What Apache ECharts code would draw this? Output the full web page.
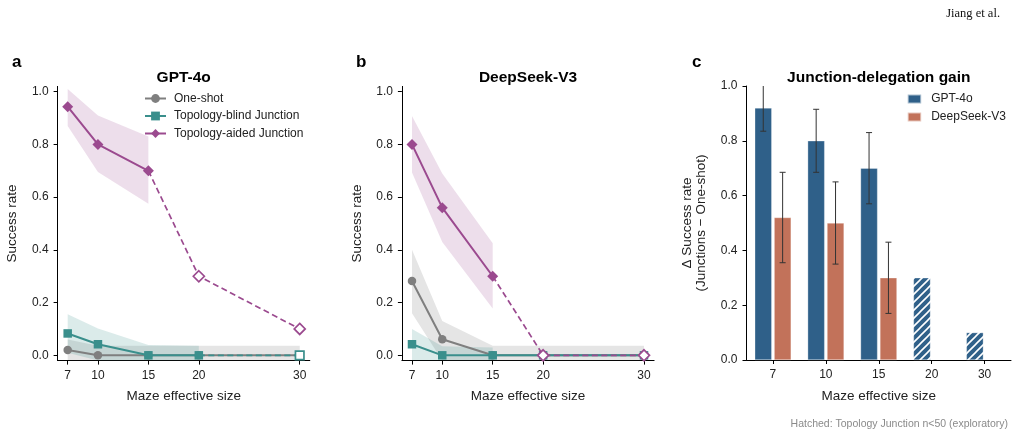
<!DOCTYPE html>
<html>
<head>
<meta charset="utf-8">
<script src="https://cdn.jsdelivr.net/npm/echarts@6/dist/echarts.min.js"></script>
<style>
  html, body { margin: 0; padding: 0; background: #fff; }
  #chart { width: 1019px; height: 437px; }
</style>
</head>
<body>
<div id="chart"></div>
<script>
// ---- data ----
var sizes = [7, 10, 15, 20, 30];
var yTicks = [0, 0.2, 0.4, 0.6, 0.8, 1.0];
var sizeLabels = ['7', '10', '15', '20', '30'];

// a: GPT-4o success rate
var gptOneShot = [0.02, 0, 0, 0, 0];
var gptOneShotLo = [-0.02, -0.02, -0.02, -0.02, -0.02];
var gptOneShotHi = [0.06, 0.036, 0.036, 0.036, 0.036];
var gptBlind = [0.083, 0.042, 0, 0, 0];
var gptBlindLo = [0.01, -0.02, -0.02, -0.02];
var gptBlindHi = [0.156, 0.102, 0.039, 0.036];
var gptAided = [0.943, 0.80, 0.70, 0.30, 0.10];
var gptAidedLo = [0.87, 0.695, 0.575];
var gptAidedHi = [1.01, 0.91, 0.83];
// index of first exploratory point (n<50)
var gptOneShotExpl = 5, gptBlindExpl = 4, gptAidedExpl = 3;

// b: DeepSeek-V3 success rate
var dsOneShot = [0.282, 0.061, 0, 0, 0];
var dsOneShotLo = [0.16, -0.02, -0.02, -0.02, -0.02];
var dsOneShotHi = [0.40, 0.13, 0.036, 0.036, 0.036];
var dsBlind = [0.042, 0, 0, 0, 0];
var dsBlindLo = [-0.02, -0.02, -0.02];
var dsBlindHi = [0.10, 0.034, 0.03];
var dsAided = [0.80, 0.56, 0.30, 0, 0];
var dsAidedLo = [0.693, 0.43, 0.178];
var dsAidedHi = [0.908, 0.69, 0.425];
var dsOneShotExpl = 5, dsBlindExpl = 5, dsAidedExpl = 3;

// c: junction-delegation gain
var gptGain = [0.92, 0.80, 0.70, 0.30, 0.10];
var gptGainErr = [0.085, 0.115, 0.13, null, null];
var gptHatched = [false, false, false, true, true];
var dsGain = [0.52, 0.50, 0.30, null, null];
var dsGainErr = [0.165, 0.15, 0.13, null, null];

// ---- style ----
var FONT = '"Liberation Sans", Arial, sans-serif';
var GRAY = '#7f7f7f', TEAL = '#3a8f8c', PURPLE = '#9b4a8f';
var BLUE = '#2f6089', ORANGE = '#c2725a';
var BAR_W = 17, BAR_GAP = 0.14;
var gridA = {left: 57.6, top: 86.4, width: 252.2, height: 274.2};
var gridB = {left: 401.9, top: 86.4, width: 252.2, height: 274.2};
var gridC = {left: 746.5, top: 86, width: 264.5, height: 274};

function hatch() {
  var s = 8, c = document.createElement('canvas');
  c.width = s; c.height = s;
  var ctx = c.getContext('2d');
  ctx.fillStyle = BLUE; ctx.fillRect(0, 0, s, s);
  ctx.strokeStyle = '#fff'; ctx.lineWidth = 1.6;
  ctx.beginPath();
  ctx.moveTo(-1, 1); ctx.lineTo(1, -1);
  ctx.moveTo(0, s); ctx.lineTo(s, 0);
  ctx.moveTo(s - 1, s + 1); ctx.lineTo(s + 1, s - 1);
  ctx.stroke();
  return c;
}

function xAxisVal(g) {
  return {
    type: 'value', gridIndex: g, min: 6, max: 31,
    axisLine: {show: true, onZero: false, lineStyle: {color: '#000', width: 1}},
    axisTick: {show: true, customValues: sizes, length: 4, lineStyle: {color: '#000'}},
    axisLabel: {customValues: sizes, color: '#222', fontSize: 12, fontFamily: FONT, margin: 9},
    splitLine: {show: false},
    name: 'Maze effective size', nameLocation: 'middle', nameGap: 29,
    nameTextStyle: {color: '#222', fontSize: 13.5, fontFamily: FONT}
  };
}
function yAxisVal(g) {
  return {
    type: 'value', gridIndex: g, min: -0.02, max: 1.02,
    axisLine: {show: true, onZero: false, lineStyle: {color: '#000', width: 1}},
    axisTick: {show: true, customValues: yTicks, length: 4, lineStyle: {color: '#000'}},
    axisLabel: {customValues: yTicks, color: '#222', fontSize: 12, fontFamily: FONT, margin: 9,
      formatter: function (v) { return v.toFixed(1); }},
    splitLine: {show: false},
    name: 'Success rate', nameLocation: 'middle', nameGap: 38,
    nameTextStyle: {color: '#222', fontSize: 13.5, fontFamily: FONT}
  };
}

function band(g, lo, hi, color) {
  return {
    type: 'custom', xAxisIndex: g, yAxisIndex: g, silent: true, z: 1, clip: true,
    data: [[sizes[0], hi[0]]],
    renderItem: function (params, api) {
      var pts = [], i;
      for (i = 0; i < hi.length; i++) pts.push(api.coord([sizes[i], hi[i]]));
      for (i = lo.length - 1; i >= 0; i--) pts.push(api.coord([sizes[i], lo[i]]));
      return {type: 'polygon', shape: {points: pts}, style: {fill: color}};
    }
  };
}

// solid part + dashed exploratory part of one curve
function curve(g, name, ys, expl, color, symbol, size, z) {
  var out = [];
  var solid = [];
  for (var i = 0; i < Math.min(expl, ys.length); i++) solid.push([sizes[i], ys[i]]);
  out.push({
    type: 'line', name: name, xAxisIndex: g, yAxisIndex: g, z: z,
    data: solid, symbol: symbol, symbolSize: size,
    lineStyle: {color: color, width: 2}, itemStyle: {color: color},
    emphasis: {disabled: true}
  });
  if (expl < ys.length) {
    var dash = [];
    for (var j = expl - 1; j < ys.length; j++) {
      if (j === expl - 1) dash.push({value: [sizes[j], ys[j]], symbol: 'none'});
      else dash.push({value: [sizes[j], ys[j]],
        itemStyle: {color: '#fff', borderColor: color, borderWidth: 1.7}});
    }
    out.push({
      type: 'line', name: name + ' (exploratory)', xAxisIndex: g, yAxisIndex: g, z: z,
      data: dash, symbol: symbol, symbolSize: size,
      lineStyle: {color: color, width: 1.7, type: [6, 3.5]}, itemStyle: {color: color},
      emphasis: {disabled: true}
    });
  }
  return out;
}

function errorBars(vals, errs, offset) {
  var data = [];
  vals.forEach(function (v, i) { if (errs[i] != null) data.push([i, v, errs[i]]); });
  return {
    type: 'custom', xAxisIndex: 2, yAxisIndex: 2, z: 5, clip: true, silent: true,
    encode: {x: 0, y: 1}, data: data,
    renderItem: function (params, api) {
      var i = api.value(0), v = api.value(1), e = api.value(2);
      var hi = api.coord([i, v + e]), lo = api.coord([i, v - e]);
      var x = hi[0] + offset, st = {stroke: '#333', lineWidth: 1};
      return {type: 'group', children: [
        {type: 'line', shape: {x1: x, y1: hi[1], x2: x, y2: lo[1]}, style: st},
        {type: 'line', shape: {x1: x - 3, y1: hi[1], x2: x + 3, y2: hi[1]}, style: st},
        {type: 'line', shape: {x1: x - 3, y1: lo[1], x2: x + 3, y2: lo[1]}, style: st}
      ]};
    }
  };
}

var hatchImg = hatch();
var barOffset = (BAR_W * (1 + BAR_GAP)) / 2;

var series = [];
// panel a
series.push(band(0, gptOneShotLo, gptOneShotHi, 'rgba(127,127,127,0.2)'));
series.push(band(0, gptBlindLo, gptBlindHi, 'rgba(58,143,140,0.18)'));
series.push(band(0, gptAidedLo, gptAidedHi, 'rgba(155,74,143,0.18)'));
series = series.concat(curve(0, 'One-shot', gptOneShot, gptOneShotExpl, GRAY, 'circle', 8.5, 2));
series = series.concat(curve(0, 'Topology-blind Junction', gptBlind, gptBlindExpl, TEAL, 'rect', 8.5, 3));
series = series.concat(curve(0, 'Topology-aided Junction', gptAided, gptAidedExpl, PURPLE, 'diamond', 11, 4));
// panel b
series.push(band(1, dsOneShotLo, dsOneShotHi, 'rgba(127,127,127,0.2)'));
series.push(band(1, dsBlindLo, dsBlindHi, 'rgba(58,143,140,0.18)'));
series.push(band(1, dsAidedLo, dsAidedHi, 'rgba(155,74,143,0.18)'));
series = series.concat(curve(1, 'One-shot', dsOneShot, dsOneShotExpl, GRAY, 'circle', 8.5, 2));
series = series.concat(curve(1, 'Topology-blind Junction', dsBlind, dsBlindExpl, TEAL, 'rect', 8.5, 3));
series = series.concat(curve(1, 'Topology-aided Junction', dsAided, dsAidedExpl, PURPLE, 'diamond', 11, 4));
// panel c
series.push({
  type: 'bar', name: 'GPT-4o', xAxisIndex: 2, yAxisIndex: 2, barWidth: BAR_W,
  barGap: (BAR_GAP * 100) + '%',
  data: gptGain.map(function (v, i) {
    return gptHatched[i] ? {value: v, itemStyle: {color: {image: hatchImg, repeat: 'repeat'}}} : v;
  }),
  itemStyle: {color: BLUE, borderColor: 'rgba(255,255,255,0.6)', borderWidth: 0.5},
  emphasis: {disabled: true}
});
series.push({
  type: 'bar', name: 'DeepSeek-V3', xAxisIndex: 2, yAxisIndex: 2, barWidth: BAR_W,
  data: dsGain,
  itemStyle: {color: ORANGE, borderColor: 'rgba(255,255,255,0.6)', borderWidth: 0.5},
  emphasis: {disabled: true}
});
series.push(errorBars(gptGain, gptGainErr, -barOffset));
series.push(errorBars(dsGain, dsGainErr, barOffset));

var chart = echarts.init(document.getElementById('chart'), null, {renderer: 'canvas'});
chart.setOption({
  animation: false,
  backgroundColor: '#fff',
  textStyle: {fontFamily: FONT},
  grid: [gridA, gridB, gridC].map(function (g) {
    return Object.assign({containLabel: false, outerBoundsMode: 'none'}, g);
  }),
  title: [
    {text: 'GPT-4o', left: 183.7, top: 70, textAlign: 'center', padding: 0,
      textStyle: {fontSize: 15.5, fontWeight: 'bold', color: '#000', fontFamily: FONT}},
    {text: 'DeepSeek-V3', left: 528, top: 70, textAlign: 'center', padding: 0,
      textStyle: {fontSize: 15.5, fontWeight: 'bold', color: '#000', fontFamily: FONT}},
    {text: 'Junction-delegation gain', left: 878.8, top: 70, textAlign: 'center', padding: 0,
      textStyle: {fontSize: 15.5, fontWeight: 'bold', color: '#000', fontFamily: FONT}}
  ],
  legend: [
    {data: ['One-shot', 'Topology-blind Junction', 'Topology-aided Junction'],
      orient: 'vertical', left: 144, top: 92.5, padding: 0, itemGap: 5.5,
      itemWidth: 21, itemHeight: 11, selectedMode: false,
      textStyle: {fontSize: 12, color: '#222', fontFamily: FONT, padding: [0, 0, 0, 3]}},
    {data: ['GPT-4o', 'DeepSeek-V3'], icon: 'rect',
      orient: 'vertical', left: 906.7, top: 93, padding: 0, itemGap: 6,
      itemWidth: 13.5, itemHeight: 9, selectedMode: false,
      textStyle: {fontSize: 12, color: '#222', fontFamily: FONT, padding: [0, 0, 0, 5]}}
  ],
  xAxis: [xAxisVal(0), xAxisVal(1), {
    type: 'category', gridIndex: 2, data: sizeLabels,
    axisLine: {show: true, lineStyle: {color: '#000', width: 1}},
    axisTick: {show: true, alignWithLabel: true, length: 4, lineStyle: {color: '#000'}},
    axisLabel: {color: '#222', fontSize: 12, fontFamily: FONT, margin: 9},
    name: 'Maze effective size', nameLocation: 'middle', nameGap: 29,
    nameTextStyle: {color: '#222', fontSize: 13.5, fontFamily: FONT}
  }],
  yAxis: [yAxisVal(0), yAxisVal(1), {
    type: 'value', gridIndex: 2, min: 0, max: 1, interval: 0.2,
    axisLine: {show: true, lineStyle: {color: '#000', width: 1}},
    axisTick: {show: true, length: 4, lineStyle: {color: '#000'}},
    axisLabel: {color: '#222', fontSize: 12, fontFamily: FONT, margin: 9,
      formatter: function (v) { return v.toFixed(1); }},
    splitLine: {show: false},
    name: '\u0394 Success rate\n(Junctions \u2212 One-shot)', nameLocation: 'middle', nameGap: 38,
    nameTextStyle: {color: '#222', fontSize: 13.5, lineHeight: 14, fontFamily: FONT}
  }],
  graphic: [
    {type: 'text', left: 12, top: 54, style: {text: 'a', font: 'bold 17px ' + FONT, fill: '#000'}},
    {type: 'text', left: 356, top: 54, style: {text: 'b', font: 'bold 17px ' + FONT, fill: '#000'}},
    {type: 'text', left: 692, top: 54, style: {text: 'c', font: 'bold 17px ' + FONT, fill: '#000'}},
    {type: 'text', right: 19, top: 7, style: {text: 'Jiang et al.', font: '12.5px "Liberation Serif", serif', fill: '#111'}},
    {type: 'text', right: 11, top: 419,
      style: {text: 'Hatched: Topology Junction n<50 (exploratory)', font: '10.5px ' + FONT, fill: '#8a8a8a'}}
  ],
  series: series
});
window.addEventListener('resize', function () { chart.resize(); });
</script>
</body>
</html>
